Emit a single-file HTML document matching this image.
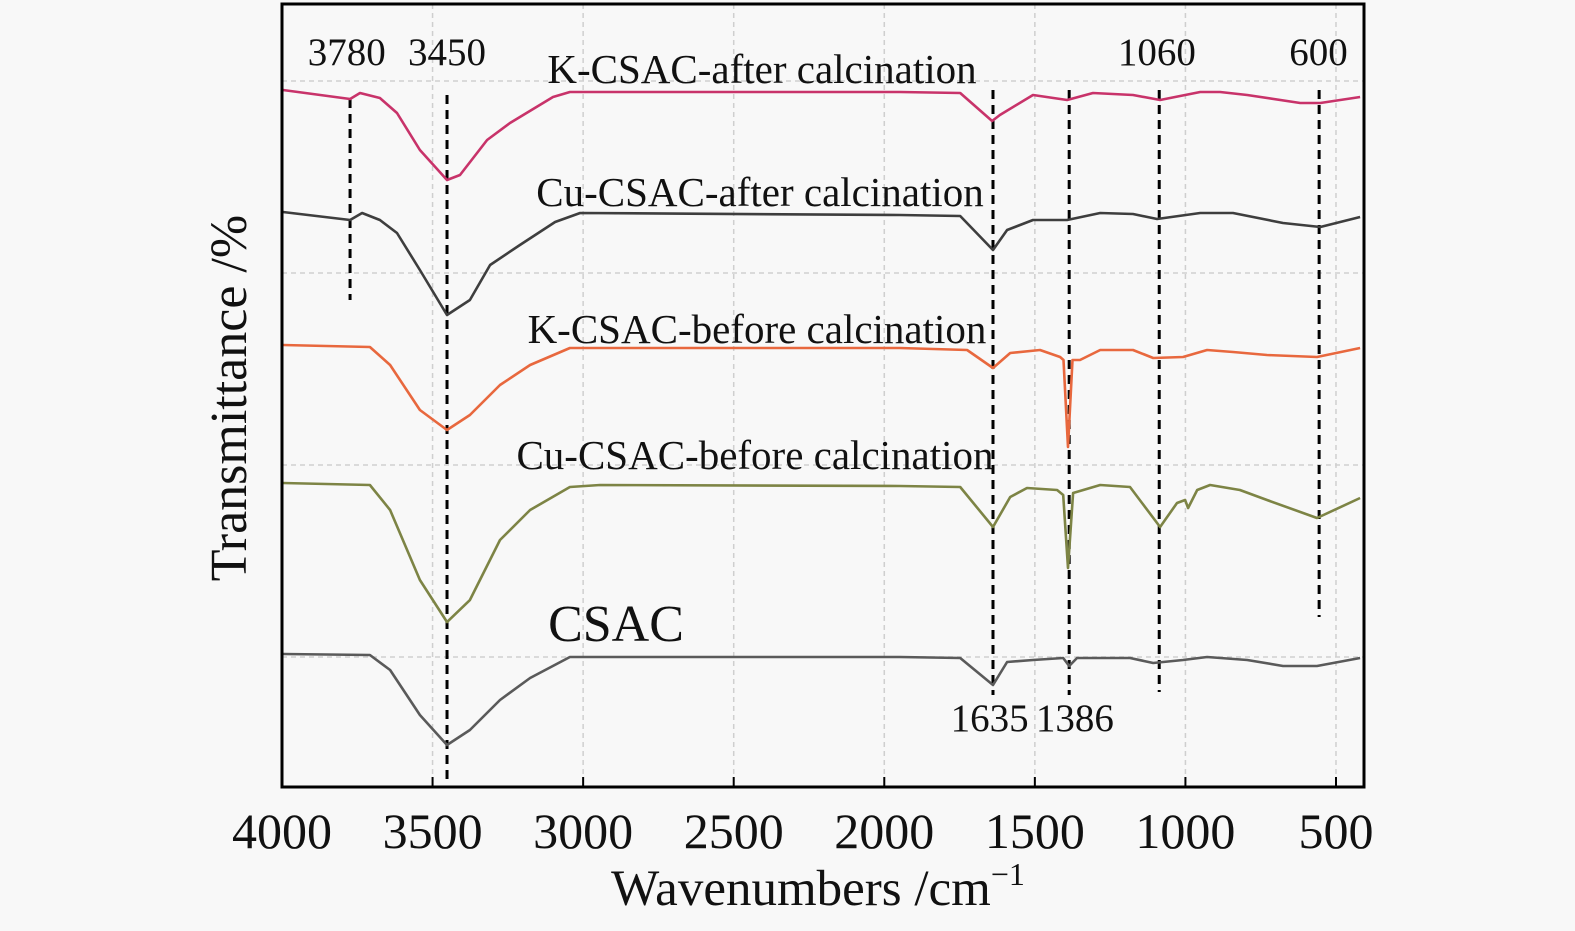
<!DOCTYPE html>
<html><head><meta charset="utf-8"><style>
html,body{margin:0;padding:0;background:#f8f8f8;}
svg{display:block;font-family:"Liberation Serif",serif;}
</style></head><body>
<svg id="chart" width="1575" height="931" viewBox="0 0 1575 931">
<rect x="0" y="0" width="1575" height="931" fill="#f8f8f8"/>
<g id="grid"></g>
<g id="markers"></g>
<g id="series"></g>
<g id="axes"></g>
<g id="labels"></g>
</svg>
<script>
const xTicks = [4000,3500,3000,2500,2000,1500,1000,500];
const yGrid = [706,514,322,130];
const markerWn = [3774,3452,1639,1386,1087,556];
const markerTop = [688,692,697,697,697,697];
const markerBottom = [487,2,92,92,95,170];
const peakLabelsTop = ["3780","3450","1060","600"];
const peakLabelsTopWn = [3785,3452,1095,558];
const peakLabelsBottom = ["1635","1386"];
const peakLabelsBottomWn = [1650,1367];

const kAfterWn = [3997,3774,3741,3675,3618,3542,3452,3409,3319,3243,3100,3044,1948,1748,1642,1616,1506,1393,1307,1174,1084,951,885,795,619,552,420];
const kAfterT = [697,688,694,689,674,637,607,612,647,664,690,695,695,694,666,672,692,687,694,692,687,695,695,692,684,684,690];
const cuAfterWn = [3997,3774,3734,3675,3618,3542,3452,3376,3309,3210,3093,3010,1948,1748,1639,1592,1506,1393,1283,1174,1094,951,842,676,552,420];
const cuAfterT = [575,567,574,567,554,517,472,487,522,542,565,574,572,571,537,557,567,567,574,573,568,574,574,564,560,570];
const kBeforeWn = [3997,3708,3641,3542,3452,3376,3276,3176,3044,1948,1725,1639,1582,1483,1416,1405,1390,1375,1350,1283,1174,1107,1008,928,842,729,563,420];
const kBeforeT = [442,440,422,377,357,372,402,422,439,439,437,419,434,437,430,427,340,427,427,437,437,429,430,437,435,432,430,439];
const cuBeforeWn = [3997,3708,3641,3542,3452,3376,3276,3176,3044,2944,1948,1748,1639,1582,1526,1426,1406,1390,1373,1283,1184,1084,1028,1001,991,961,918,819,729,563,420];
const cuBeforeT = [304,302,277,207,165,187,247,277,300,302,301,300,260,290,299,297,292,219,294,302,300,260,284,287,279,297,302,297,287,269,289];
const csacWn = [3997,3708,3641,3542,3452,3376,3276,3176,3044,1948,1748,1639,1592,1506,1406,1386,1360,1184,1107,1008,928,795,676,563,420];
const csacT = [133,132,117,72,42,57,87,109,130,130,129,102,125,127,129,121,129,129,124,127,130,127,121,121,129];

const X0=282, X1=1364, WN0=4000, WN1=407;
const Y0=787, Y1=4, T0=0, T1=783;
function sx(w){return X0+(WN0-w)/(WN0-WN1)*(X1-X0);}
function sy(t){return Y0-(t-T0)/(T1-T0)*(Y0-Y1);}
const NS="http://www.w3.org/2000/svg";
function mk(tag,attrs,parent){const e=document.createElementNS(NS,tag);for(const k in attrs)e.setAttribute(k,attrs[k]);parent.appendChild(e);return e;}

const grid=document.getElementById('grid');
xTicks.forEach(w=>{if(w===4000)return;
 const l=mk('line',{x1:sx(w),x2:sx(w),y1:Y1,y2:Y0,stroke:'#cfcfcf','stroke-width':1.5,'stroke-dasharray':'5,4'},grid);
 
 });
yGrid.forEach(t=>{
 const l=mk('line',{x1:X0,x2:X1,y1:sy(t),y2:sy(t),stroke:'#cfcfcf','stroke-width':1.5,'stroke-dasharray':'5,4'},grid);
 
 });

const markers=document.getElementById('markers');
markerWn.forEach((w,i)=>{
 const l=mk('line',{x1:sx(w),x2:sx(w),y1:sy(markerTop[i]),y2:sy(markerBottom[i]),stroke:'#000','stroke-width':3,'stroke-dasharray':'9,6'},markers);
 
 });

function linePath(ws,ts){
 return ws.map((w,i)=>(i?'L':'M')+sx(w).toFixed(1)+','+sy(ts[i]).toFixed(1)).join(' ');}
const series=document.getElementById('series');
const defs=[[kAfterWn,kAfterT,'#c8336a','series-k-csac-after'],[cuAfterWn,cuAfterT,'#3e3e3e','series-cu-csac-after'],[kBeforeWn,kBeforeT,'#e8683e','series-k-csac-before'],[cuBeforeWn,cuBeforeT,'#7d8445','series-cu-csac-before'],[csacWn,csacT,'#5a5a5a','series-csac']];
defs.forEach(s=>{
 const p=mk('path',{d:linePath(s[0],s[1]),fill:'none',stroke:s[2],'stroke-width':2.6,'stroke-linejoin':'round'},series);
 
 });

const axes=document.getElementById('axes');
const frame=mk('rect',{x:X0,y:Y1,width:X1-X0,height:Y0-Y1,fill:'none',stroke:'#000','stroke-width':3},axes);


xTicks.forEach(w=>{
 const t=mk('line',{x1:sx(w),x2:sx(w),y1:Y0,y2:Y0-10,stroke:'#000','stroke-width':2},axes);
 
 
 const tx=mk('text',{x:sx(w),y:848,'text-anchor':'middle','font-size':50,fill:'#111'},axes);
 tx.textContent=w;
 
 });

const labels=document.getElementById('labels');
peakLabelsTop.forEach((s,i)=>{
 const t=mk('text',{x:sx(peakLabelsTopWn[i]),y:65,'text-anchor':'middle','font-size':39,fill:'#111'},labels);
 t.textContent=s;
 
 });
peakLabelsBottom.forEach((s,i)=>{
 const t=mk('text',{x:sx(peakLabelsBottomWn[i]),y:731,'text-anchor':'middle','font-size':39,fill:'#111'},labels);
 t.textContent=s;
 
 });
</script>
<svg style="position:absolute;left:0;top:0" width="1575" height="931">
<g font-family="Liberation Serif, serif" fill="#111">
<text x="762" y="83" text-anchor="middle" font-size="41">K-CSAC-after calcination</text>
<text x="760" y="206" text-anchor="middle" font-size="41">Cu-CSAC-after calcination</text>
<text x="757" y="343" text-anchor="middle" font-size="41">K-CSAC-before calcination</text>
<text x="755" y="469" text-anchor="middle" font-size="41">Cu-CSAC-before calcination</text>
<text x="616" y="641" text-anchor="middle" font-size="52">CSAC</text>
<text x="818" y="905" text-anchor="middle" font-size="51">Wavenumbers /cm<tspan font-size="32" dy="-20">−1</tspan></text>
<text x="0" y="0" transform="translate(246,398) rotate(-90)" text-anchor="middle" font-size="52">Transmittance /%</text>
</g>
</svg>
</body></html>
